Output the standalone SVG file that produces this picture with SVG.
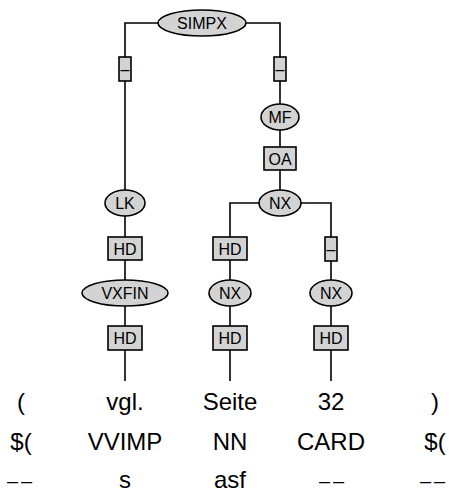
<svg xmlns="http://www.w3.org/2000/svg" width="449" height="493" viewBox="0 0 449 493">
<style>
.e{fill:#d3d3d3;stroke:#000;stroke-width:1.6}
.b{fill:#d3d3d3;stroke:#000;stroke-width:1.6}
.l{fill:none;stroke:#000;stroke-width:1.6}
.t{font-family:"Liberation Sans",Arial,sans-serif;font-size:16px;text-anchor:middle;fill:#000}
.w{font-family:"Liberation Sans",Arial,sans-serif;font-size:24px;text-anchor:middle;fill:#000}
.d{font-size:20px;letter-spacing:3px}
</style>
<rect width="449" height="493" fill="#fff"/>
<g id="connectors">
<polyline class="l" points="158,23 125,23 125,57"/>
<polyline class="l" points="246,23 280,23 280,57"/>
<line class="l" x1="125" y1="81" x2="125" y2="190"/>
<line class="l" x1="280" y1="81" x2="280" y2="104"/>
<line class="l" x1="280" y1="130" x2="280" y2="147"/>
<line class="l" x1="280" y1="170" x2="280" y2="190"/>
<line class="l" x1="125" y1="216" x2="125" y2="237"/>
<line class="l" x1="125" y1="260" x2="125" y2="280"/>
<line class="l" x1="125" y1="306" x2="125" y2="326"/>
<line class="l" x1="125" y1="350" x2="125" y2="381"/>
<polyline class="l" points="259,203 230,203 230,237"/>
<polyline class="l" points="301,203 331,203 331,237"/>
<line class="l" x1="230" y1="260" x2="230" y2="280"/>
<line class="l" x1="230" y1="306" x2="230" y2="326"/>
<line class="l" x1="230" y1="350" x2="230" y2="381"/>
<line class="l" x1="331" y1="261" x2="331" y2="280"/>
<line class="l" x1="331" y1="306" x2="331" y2="326"/>
<line class="l" x1="331" y1="350" x2="331" y2="381"/>
</g>
<g id="n-simpx"><ellipse class="e" cx="202" cy="23" rx="44" ry="13"/><text class="t" x="202" y="29">SIMPX</text></g>
<g id="e-left"><rect class="b" x="119" y="57" width="12" height="24"/><text class="t" x="125" y="75">–</text></g>
<g id="e-right"><rect class="b" x="274" y="57" width="12" height="24"/><text class="t" x="280" y="75">–</text></g>
<g id="n-mf"><ellipse class="e" cx="280" cy="117" rx="19" ry="13"/><text class="t" x="280" y="123">MF</text></g>
<g id="e-oa"><rect class="b" x="264" y="147" width="32" height="23"/><text class="t" x="280" y="164.5">OA</text></g>
<g id="n-nx-top"><ellipse class="e" cx="280" cy="203" rx="21" ry="13"/><text class="t" x="280" y="209">NX</text></g>
<g id="n-lk"><ellipse class="e" cx="125" cy="203" rx="20" ry="13"/><text class="t" x="125" y="209">LK</text></g>
<g id="e-hd1"><rect class="b" x="108" y="237" width="34" height="23"/><text class="t" x="125" y="254.5">HD</text></g>
<g id="e-hd2"><rect class="b" x="213" y="237" width="34" height="23"/><text class="t" x="230" y="254.5">HD</text></g>
<g id="e-dash3"><rect class="b" x="325" y="237" width="12" height="24"/><text class="t" x="331" y="255">–</text></g>
<g id="n-vxfin"><ellipse class="e" cx="125" cy="293" rx="43" ry="13"/><text class="t" x="125" y="299">VXFIN</text></g>
<g id="n-nx-mid"><ellipse class="e" cx="230" cy="293" rx="21" ry="13"/><text class="t" x="230" y="299">NX</text></g>
<g id="n-nx-right"><ellipse class="e" cx="331" cy="293" rx="21" ry="13"/><text class="t" x="331" y="299">NX</text></g>
<g id="e-hd4"><rect class="b" x="108" y="326" width="34" height="24"/><text class="t" x="125" y="344">HD</text></g>
<g id="e-hd5"><rect class="b" x="213" y="326" width="34" height="24"/><text class="t" x="230" y="344">HD</text></g>
<g id="e-hd6"><rect class="b" x="314" y="326" width="34" height="24"/><text class="t" x="331" y="344">HD</text></g>
<g id="tokens">
<text class="w" x="21" y="410">(</text>
<text class="w" x="125" y="410">vgl.</text>
<text class="w" x="230" y="410">Seite</text>
<text class="w" x="331" y="410">32</text>
<text class="w" x="435" y="410">)</text>
<text class="w" x="21" y="450">$(</text>
<text class="w" x="125" y="450">VVIMP</text>
<text class="w" x="230" y="450">NN</text>
<text class="w" x="331" y="450">CARD</text>
<text class="w" x="435" y="450">$(</text>
<text class="w d" x="21" y="488">––</text>
<text class="w" x="125" y="488">s</text>
<text class="w" x="230" y="488">asf</text>
<text class="w d" x="333" y="488">––</text>
<text class="w d" x="434" y="488">––</text>
</g>
</svg>
